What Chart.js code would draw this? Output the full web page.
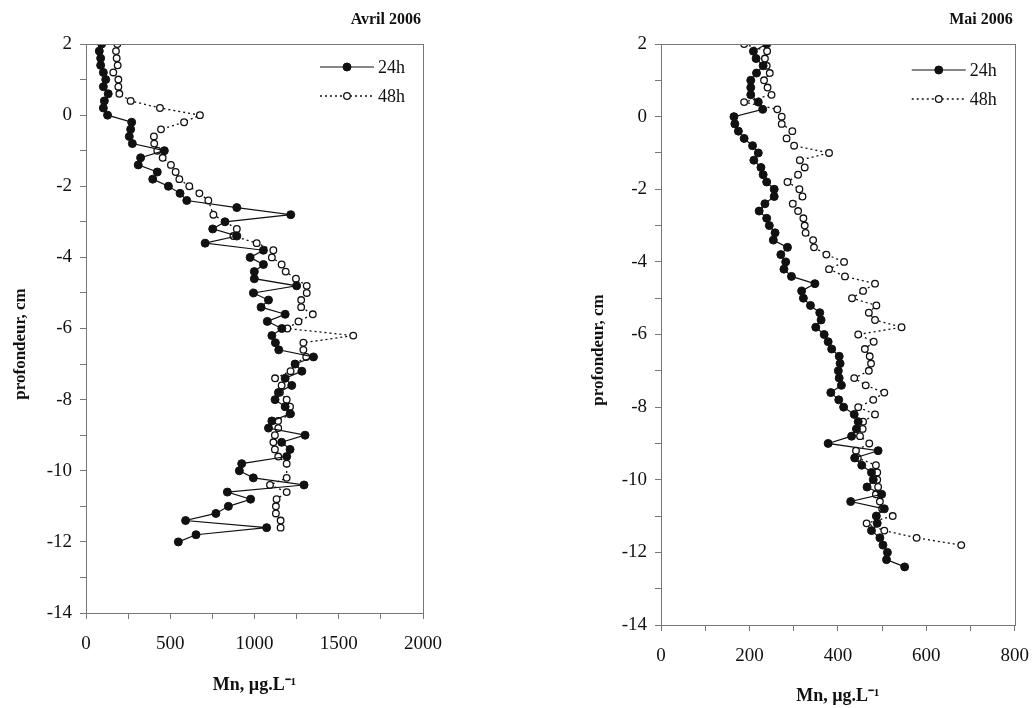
<!DOCTYPE html>
<html>
<head>
<meta charset="utf-8">
<script src="https://cdn.jsdelivr.net/npm/chart.js@4.4.1/dist/chart.umd.min.js"></script>
<style>
  html, body { margin: 0; padding: 0; background: #fff; }
  #wrap { position: relative; width: 1033px; height: 708px; overflow: hidden; }
  #avrilChart { position: absolute; left: 0; top: 0; }
  #maiChart { position: absolute; left: 560px; top: 0; }
</style>
</head>
<body>
<div id="wrap">
  <canvas id="avrilChart" width="470" height="708"></canvas>
  <canvas id="maiChart" width="483" height="708"></canvas>
</div>
<script>
// depth, cm (one sample every 0.2 cm)
const depthAvril = [2, 1.8, 1.6, 1.4, 1.2, 1, 0.8, 0.6, 0.4, 0.2, 0,
  -0.2, -0.4, -0.6, -0.8, -1, -1.2, -1.4, -1.6, -1.8, -2,
  -2.2, -2.4, -2.6, -2.8, -3, -3.2, -3.4, -3.6, -3.8, -4,
  -4.2, -4.4, -4.6, -4.8, -5, -5.2, -5.4, -5.6, -5.8, -6,
  -6.2, -6.4, -6.6, -6.8, -7, -7.2, -7.4, -7.6, -7.8, -8,
  -8.2, -8.4, -8.6, -8.8, -9, -9.2, -9.4, -9.6, -9.8, -10,
  -10.2, -10.4, -10.6, -10.8, -11, -11.2, -11.4, -11.6, -11.8, -12];

const depthMai = [2, 1.8, 1.6, 1.4, 1.2, 1, 0.8, 0.6, 0.4, 0.2, 0,
  -0.2, -0.4, -0.6, -0.8, -1, -1.2, -1.4, -1.6, -1.8, -2,
  -2.2, -2.4, -2.6, -2.8, -3, -3.2, -3.4, -3.6, -3.8, -4,
  -4.2, -4.4, -4.6, -4.8, -5, -5.2, -5.4, -5.6, -5.8, -6,
  -6.2, -6.4, -6.6, -6.8, -7, -7.2, -7.4, -7.6, -7.8, -8,
  -8.2, -8.4, -8.6, -8.8, -9, -9.2, -9.4, -9.6, -9.8, -10,
  -10.2, -10.4, -10.6, -10.8, -11, -11.2, -11.4, -11.6, -11.8, -12,
  -12.2, -12.4];

// Mn, ug/L - Avril 2006
const avril24h = [93, 79, 87, 87, 103, 117, 103, 132, 109, 103, 128,
  271, 265, 257, 275, 465, 324, 310, 423, 396, 489,
  558, 598, 895, 1215, 825, 752, 895, 707, 1053, 974,
  1053, 999, 999, 1250, 994, 1083, 1039, 1182, 1076, 1162,
  1103, 1124, 1144, 1350, 1241, 1281, 1182, 1221, 1142, 1122,
  1182, 1211, 1103, 1083, 1300, 1161, 1211, 1191, 924, 910,
  993, 1294, 839, 977, 845, 771, 591, 1072, 653, 548];

const avril48h = [186, 178, 182, 188, 162, 192, 192, 198, 265, 439, 676,
  582, 445, 403, 405, 423, 455, 504, 532, 554, 613,
  673, 726, null, 756, null, 895, 875, 1013, 1112, 1103,
  1161, 1185, 1246, 1310, 1310, 1277, 1277, 1346, 1261, 1195,
  1586, 1290, 1290, 1307, 1240, 1214, 1122, 1161, 1151, 1191,
  1211, 1216, 1140, 1141, 1121, 1112, 1121, 1141, 1191, null,
  1191, 1092, 1191, 1131, 1127, 1127, 1155, 1155];

// Mn, ug/L - Mai 2006
const mai24h = [239, 209, 215, 231, 216, 203, 203, 203, 220, 230, 165,
  167, 175, 188, 207, 220, 210, 226, 231, 239, 256,
  256, 235, 222, 239, 245, 258, 254, 286, 271, 282,
  278, 295, 348, 318, 322, 338, 359, 362, 350, 369,
  378, 386, 403, 405, 401, 403, 408, 384, 402, 413,
  437, 446, 442, 431, 378, 491, 438, 454, 476, 480,
  466, 499, 429, 505, 487, 489, 476, 495, 502, 512,
  510, 551];

const mai48h = [188, 240, 235, 239, 246, 233, 241, 250, 188, 263, 273,
  273, 297, 284, 301, 380, 314, 325, 310, 286, 313,
  320, 298, 310, 322, 325, 327, 344, 346, 374, 414,
  380, 416, 484, 457, 432, 487, 470, 484, 544, 446,
  481, 461, 472, 475, 470, 437, 463, 505, 480, 446,
  484, 457, 456, 450, 471, 441, 445, 486, 489, 489,
  491, 486, 495, 500, 524, 465, 505, 578, 679];

const seriesLabels = ["24h", "48h"];

Chart.defaults.font.family = '"Liberation Serif", "Times New Roman", serif';
Chart.defaults.color = "#111";

function toPoints(values, depths) {
  const pts = [];
  values.forEach((v, i) => {
    if (v !== null) pts.push({ x: v, y: depths[i] });
  });
  return pts;
}

// frame, panel title, y title and the small legend inside the plot
const panelDecor = {
  id: "panelDecor",
  afterDraw(chart, args, opts) {
    const { ctx, chartArea: a } = chart;
    ctx.save();
    ctx.strokeStyle = "#777";
    ctx.lineWidth = 1;
    ctx.strokeRect(Math.round(a.left) + 0.5, Math.round(a.top) + 0.5,
      Math.round(a.width), Math.round(a.height));

    ctx.fillStyle = "#111";
    ctx.font = 'bold 16px "Liberation Serif"';
    ctx.textAlign = "right";
    ctx.textBaseline = "alphabetic";
    ctx.fillText(opts.title, a.right - 2, a.top - 20);

    // y axis title, a bit below the middle as in the original
    ctx.save();
    ctx.translate(opts.yTitleX, opts.yTitleY);
    ctx.rotate(-Math.PI / 2);
    ctx.font = 'bold 17px "Liberation Serif"';
    ctx.textAlign = "center";
    ctx.textBaseline = "middle";
    ctx.fillText("profondeur, cm", 0, 0);
    ctx.restore();

    ctx.font = '18px "Liberation Serif"';
    chart.data.datasets.forEach((ds, i) => {
      const y = a.top + opts.legendY[i];
      const x0 = a.right - 103;
      ctx.strokeStyle = "#111";
      ctx.lineWidth = ds.borderWidth;
      ctx.setLineDash(ds.borderDash || []);
      ctx.beginPath();
      ctx.moveTo(x0, y);
      ctx.lineTo(x0 + 54, y);
      ctx.stroke();
      ctx.setLineDash([]);
      ctx.lineWidth = ds.pointBorderWidth;
      ctx.beginPath();
      ctx.arc(x0 + 27, y, ds.pointRadius, 0, Math.PI * 2);
      ctx.fillStyle = ds.pointBackgroundColor;
      ctx.fill();
      ctx.stroke();
      ctx.fillStyle = "#111";
      ctx.textAlign = "left";
      ctx.textBaseline = "middle";
      ctx.fillText(ds.label, x0 + 58, y + 1);
    });
    ctx.restore();
  }
};

function makePanel(canvas, cfg) {
  return new Chart(canvas, {
    type: "scatter",
    data: {
      datasets: [
        {
          label: seriesLabels[0],
          data: toPoints(cfg.v24, cfg.depth),
          showLine: true,
          borderColor: "#111",
          borderWidth: 1.2,
          pointRadius: 4,
          pointBorderWidth: 1,
          pointBackgroundColor: "#111",
          pointBorderColor: "#111"
        },
        {
          label: seriesLabels[1],
          data: toPoints(cfg.v48, cfg.depth),
          showLine: true,
          borderColor: "#111",
          borderWidth: 1.3,
          borderDash: [2, 3],
          pointRadius: 3.3,
          pointBorderWidth: 1.3,
          pointBackgroundColor: "#fff",
          pointBorderColor: "#111"
        }
      ]
    },
    options: {
      responsive: false,
      animation: false,
      events: [],
      layout: { padding: cfg.padding },
      scales: {
        x: {
          type: "linear",
          min: 0,
          max: cfg.xMax,
          afterFit: s => { s.height = cfg.xHeight; },
          grid: { drawOnChartArea: false, tickLength: 6, color: "#777" },
          border: { color: "#777" },
          ticks: {
            stepSize: cfg.xStep,
            autoSkip: false,
            maxRotation: 0,
            padding: 14,
            font: { size: 19 },
            callback: v => (v % cfg.xLabelEvery === 0 ? String(v) : "")
          },
          title: {
            display: true,
            text: "Mn, µg.L⁻¹",
            padding: 0,
            font: { size: 18, weight: "bold" }
          }
        },
        y: {
          type: "linear",
          min: -14,
          max: 2,
          afterFit: s => { s.width = cfg.yWidth; },
          grid: { drawOnChartArea: false, tickLength: 6, color: "#777" },
          border: { color: "#777" },
          ticks: {
            stepSize: 1,
            autoSkip: false,
            padding: 8,
            font: { size: 19 },
            callback: v => (v % 2 === 0 ? String(v) : "")
          },
          title: { display: false }
        }
      },
      plugins: {
        legend: { display: false },
        tooltip: { enabled: false },
        panelDecor: {
          title: cfg.title,
          legendY: cfg.legendY,
          yTitleX: cfg.yTitleX,
          yTitleY: cfg.yTitleY
        }
      }
    },
    plugins: [panelDecor]
  });
}

makePanel(document.getElementById("avrilChart"), {
  title: "Avril 2006",
  depth: depthAvril,
  v24: avril24h,
  v48: avril48h,
  xMax: 2000,
  xStep: 250,
  xLabelEvery: 500,
  padding: { left: 11, top: 44, right: 47, bottom: 12 },
  yWidth: 75,
  xHeight: 83,
  legendY: [23, 52],
  yTitleX: 21,
  yTitleY: 344
});

makePanel(document.getElementById("maiChart"), {
  title: "Mai 2006",
  depth: depthMai,
  v24: mai24h,
  v48: mai48h,
  xMax: 800,
  xStep: 100,
  xLabelEvery: 200,
  padding: { left: 29, top: 44, right: 0, bottom: 1 },
  yWidth: 72,
  xHeight: 82,
  legendY: [26, 55],
  yTitleX: 39,
  yTitleY: 350
});
</script>
</body>
</html>
